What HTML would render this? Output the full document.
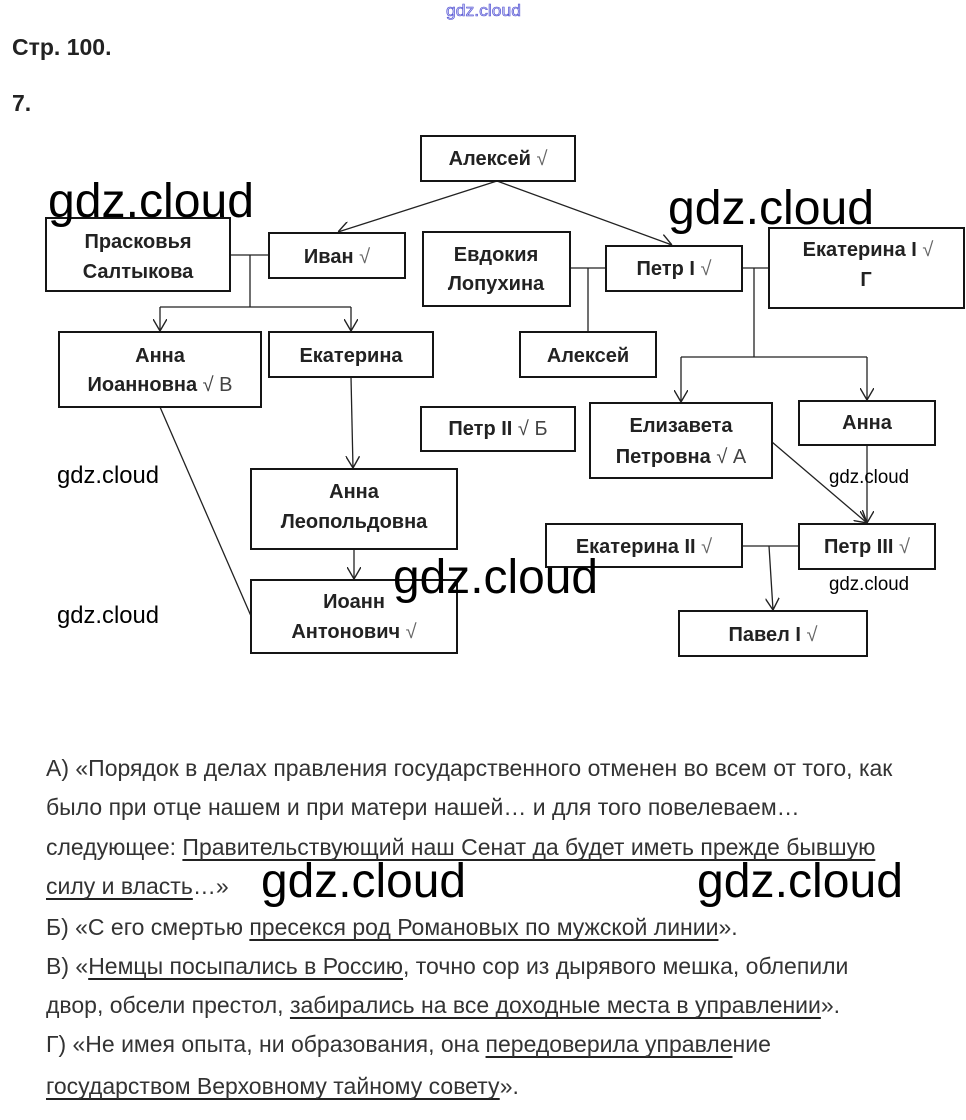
<!DOCTYPE html>
<html><head><meta charset="utf-8">
<style>
html,body{margin:0;padding:0;background:#fff;}
body{width:966px;height:1120px;overflow:hidden;position:relative;}
svg{position:absolute;left:0;top:0;}
.ln{position:absolute;left:46px;white-space:nowrap;font-family:"Liberation Sans",Arial,sans-serif;font-size:23px;color:#333;line-height:1;}
.ln u{text-decoration:underline;text-decoration-thickness:1.5px;text-underline-offset:4px;text-decoration-color:#222;text-decoration-skip-ink:none;}
</style></head>
<body>
<svg width="966" height="1120" viewBox="0 0 966 1120" xmlns="http://www.w3.org/2000/svg">
<defs>
<marker id="ah" viewBox="0 0 12 14" refX="12" refY="7" markerWidth="12" markerHeight="14" markerUnits="userSpaceOnUse" orient="auto">
<path d="M0,0 L12,7 L0,14" fill="none" stroke="#222" stroke-width="1.4"/>
</marker>
</defs>
<text x="446" y="16" font-family="Liberation Sans, sans-serif" font-size="17" fill="#c8c8f2" stroke="#4848d0" stroke-width="0.6" textLength="75" lengthAdjust="spacingAndGlyphs">gdz.cloud</text>
<text x="12" y="55" font-family="Liberation Sans, sans-serif" font-size="23" font-weight="bold" fill="#222">Стр. 100.</text>
<text x="12" y="111" font-family="Liberation Sans, sans-serif" font-size="23" font-weight="bold" fill="#222">7.</text>

<g fill="none" stroke="#222" stroke-width="1.3">
<line x1="497" y1="181" x2="338" y2="232" marker-end="url(#ah)"/>
<line x1="497" y1="181" x2="672" y2="245" marker-end="url(#ah)"/>
<line x1="230" y1="255" x2="269" y2="255"/>
<line x1="250" y1="255" x2="250" y2="307"/>
<line x1="160" y1="307" x2="351" y2="307"/>
<line x1="160" y1="307" x2="160" y2="331" marker-end="url(#ah)"/>
<line x1="351" y1="307" x2="351" y2="331" marker-end="url(#ah)"/>
<line x1="351" y1="377" x2="353" y2="468" marker-end="url(#ah)"/>
<line x1="354" y1="549" x2="354" y2="579" marker-end="url(#ah)"/>
<line x1="160" y1="407" x2="251" y2="616"/>
<line x1="570" y1="268" x2="606" y2="268"/>
<line x1="588" y1="268" x2="588" y2="332"/>
<line x1="742" y1="268" x2="769" y2="268"/>
<line x1="754" y1="268" x2="754" y2="357"/>
<line x1="681" y1="357" x2="867" y2="357"/>
<line x1="681" y1="357" x2="681" y2="402" marker-end="url(#ah)"/>
<line x1="867" y1="357" x2="867" y2="400" marker-end="url(#ah)"/>
<line x1="772" y1="442" x2="867" y2="523" marker-end="url(#ah)"/>
<line x1="867" y1="445" x2="867" y2="523" marker-end="url(#ah)"/>
<line x1="742" y1="546" x2="799" y2="546"/>
<line x1="769" y1="546" x2="773" y2="610" marker-end="url(#ah)"/>
</g>

<g fill="#fff" stroke="#151515" stroke-width="2">
<rect x="421" y="136" width="154" height="45"/>
<rect x="46" y="218" width="184" height="73"/>
<rect x="269" y="233" width="136" height="45"/>
<rect x="423" y="232" width="147" height="74"/>
<rect x="606" y="246" width="136" height="45"/>
<rect x="769" y="228" width="195" height="80"/>
<rect x="520" y="332" width="136" height="45"/>
<rect x="59" y="332" width="202" height="75"/>
<rect x="269" y="332" width="164" height="45"/>
<rect x="421" y="407" width="154" height="44"/>
<rect x="590" y="403" width="182" height="75"/>
<rect x="799" y="401" width="136" height="44"/>
<rect x="251" y="469" width="206" height="80"/>
<rect x="546" y="524" width="196" height="43"/>
<rect x="799" y="524" width="136" height="45"/>
<rect x="251" y="580" width="206" height="73"/>
<rect x="679" y="611" width="188" height="45"/>
</g>

<g font-family="Liberation Sans, sans-serif" font-size="20" font-weight="bold" fill="#222" text-anchor="middle">
<text x="498" y="165">Алексей <tspan font-weight="normal" fill="#666">√</tspan></text>
<text x="138" y="248">Прасковья</text>
<text x="138" y="278">Салтыкова</text>
<text x="337" y="263">Иван <tspan font-weight="normal" fill="#666">√</tspan></text>
<text x="496" y="261">Евдокия</text>
<text x="496" y="290">Лопухина</text>
<text x="674" y="275">Петр I <tspan font-weight="normal" fill="#666">√</tspan></text>
<text x="868" y="256">Екатерина I <tspan font-weight="normal" fill="#666">√</tspan></text>
<text x="866" y="286">Г</text>
<text x="588" y="362">Алексей</text>
<text x="160" y="362">Анна</text>
<text x="160" y="391">Иоанновна <tspan font-weight="normal" fill="#444">√ В</tspan></text>
<text x="351" y="362">Екатерина</text>
<text x="498" y="435">Петр II <tspan font-weight="normal" fill="#444">√ Б</tspan></text>
<text x="681" y="432">Елизавета</text>
<text x="681" y="463">Петровна <tspan font-weight="normal" fill="#444">√ А</tspan></text>
<text x="867" y="429">Анна</text>
<text x="354" y="498">Анна</text>
<text x="354" y="528">Леопольдовна</text>
<text x="644" y="553">Екатерина II <tspan font-weight="normal" fill="#666">√</tspan></text>
<text x="867" y="553">Петр III <tspan font-weight="normal" fill="#666">√</tspan></text>
<text x="354" y="608">Иоанн</text>
<text x="354" y="638">Антонович <tspan font-weight="normal" fill="#666">√</tspan></text>
<text x="773" y="641">Павел I <tspan font-weight="normal" fill="#666">√</tspan></text>
</g>

<g font-family="Liberation Sans, sans-serif" fill="#000">
<text x="48" y="217" font-size="48" textLength="206" lengthAdjust="spacingAndGlyphs">gdz.cloud</text>
<text x="668" y="224" font-size="48" textLength="206" lengthAdjust="spacingAndGlyphs">gdz.cloud</text>
<text x="393" y="593" font-size="48" textLength="205" lengthAdjust="spacingAndGlyphs">gdz.cloud</text>
<text x="261" y="897" font-size="48" textLength="205" lengthAdjust="spacingAndGlyphs">gdz.cloud</text>
<text x="697" y="897" font-size="48" textLength="206" lengthAdjust="spacingAndGlyphs">gdz.cloud</text>
<text x="57" y="483" font-size="24" textLength="102" lengthAdjust="spacingAndGlyphs">gdz.cloud</text>
<text x="57" y="623" font-size="24" textLength="102" lengthAdjust="spacingAndGlyphs">gdz.cloud</text>
<text x="829" y="483" font-size="19" textLength="80" lengthAdjust="spacingAndGlyphs">gdz.cloud</text>
<text x="829" y="590" font-size="19" textLength="80" lengthAdjust="spacingAndGlyphs">gdz.cloud</text>
</g>
</svg>

<div class="ln" style="top:757px">А) «Порядок в делах правления государственного отменен во всем от того, как</div>
<div class="ln" style="top:796px">было при отце нашем и при матери нашей… и для того повелеваем…</div>
<div class="ln" style="top:836px">следующее: <u>Правительствующий наш Сенат да будет иметь прежде бывшую</u></div>
<div class="ln" style="top:875px"><u>силу и власть</u>…»</div>
<div class="ln" style="top:916px">Б) «С его смертью <u>пресекся род Романовых по мужской линии</u>».</div>
<div class="ln" style="top:955px">В) «<u>Немцы посыпались в Россию</u>, точно сор из дырявого мешка, облепили</div>
<div class="ln" style="top:994px">двор, обсели престол, <u>забирались на все доходные места в управлении</u>».</div>
<div class="ln" style="top:1033px">Г) «Не имея опыта, ни образования, она <u>передоверила управле</u>ние</div>
<div class="ln" style="top:1075px"><u>государством Верховному тайному совету</u>».</div>
</body></html>
